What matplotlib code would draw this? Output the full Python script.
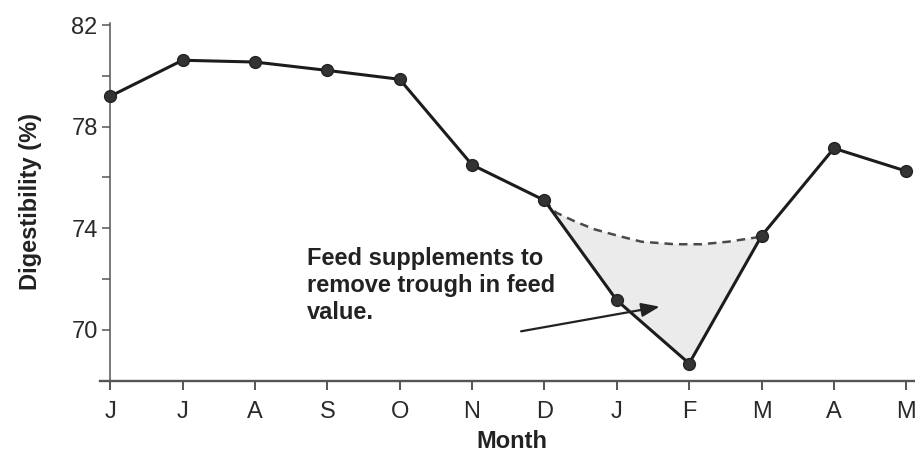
import matplotlib.pyplot as plt

plt.rcParams['font.family'] = ['Liberation Sans', 'DejaVu Sans']

months = ['J', 'J', 'A', 'S', 'O', 'N', 'D', 'J', 'F', 'M', 'A', 'M']
digest = [79.2, 80.62, 80.55, 80.22, 79.87, 76.5, 75.1, 71.16, 68.67, 73.7, 77.15, 76.25]

# dashed "supplemented" curve across the winter trough
supp_x = [6.0, 6.16, 6.42, 6.69, 7.02, 7.34, 7.8, 8.17, 8.54, 8.91, 9.0]
supp_y = [75.1, 74.62, 74.27, 73.96, 73.7, 73.47, 73.37, 73.37, 73.47, 73.63, 73.7]

note = 'Feed supplements to\nremove trough in feed\nvalue.'
yticks = [70, 74, 78, 82]
yminor = [72, 76, 80]

x = list(range(len(months)))

fig = plt.figure(figsize=(9.15, 4.53), dpi=100)
ax = fig.add_axes([0.1093, 0.1589, 0.8907, 0.791])

# shaded area between the dashed curve and the actual line (D..M)
trough_x = [x[9], x[8], x[7], x[6]]
trough_y = [digest[9], digest[8], digest[7], digest[6]]
ax.fill(supp_x + trough_x, supp_y + trough_y, color='#ebebeb', lw=0, zorder=1)
ax.plot(supp_x, supp_y, ls=(0, (3.4, 2.4)), color='#4a4a4a', lw=1.8, zorder=2)

ax.plot(x, digest, color='#1c1c1c', lw=2.2, marker='o', ms=8.5,
        mfc='#333333', mec='#222222', zorder=3)

ax.annotate('', xy=(7.63, 70.93), xytext=(5.64, 69.92),
            arrowprops=dict(arrowstyle='-|>,head_length=1.1,head_width=0.42',
                            color='#222222', lw=1.6), zorder=4)
ax.text(2.72, 73.25, note, fontsize=17, fontweight='bold', color='#222222',
        va='top', ha='left', linespacing=1.22)

ax.set_xlim(-0.14, 11.12)
ax.set_ylim(67.98, 82.1)
ax.set_xticks(x)
ax.set_xticklabels(months)
ax.set_yticks(yticks)
ax.set_yticks(yminor, minor=True)

for s in ['top', 'right']:
    ax.spines[s].set_visible(False)
ax.spines['left'].set_position(('data', 0))
ax.spines['left'].set_color('#555555')
ax.spines['left'].set_linewidth(1.1)
ax.spines['bottom'].set_color('#555555')
ax.spines['bottom'].set_linewidth(1.7)

ax.tick_params(axis='x', direction='out', length=6.5, width=1.4, color='#555555',
               labelsize=17, labelcolor='#2a2a2a', pad=8)
ax.tick_params(axis='y', which='both', direction='out', length=6, width=1.1,
               color='#555555', labelsize=17, labelcolor='#2a2a2a', pad=3)

ax.set_ylabel('Digestibility (%)', fontsize=17, fontweight='bold', color='#222222')
ax.yaxis.set_label_coords(-0.071, 0.5)
ax.set_xlabel('Month', fontsize=17, fontweight='bold', color='#222222')
ax.xaxis.set_label_coords(0.5055, -0.137)

fig.savefig('out.png', dpi=100)
